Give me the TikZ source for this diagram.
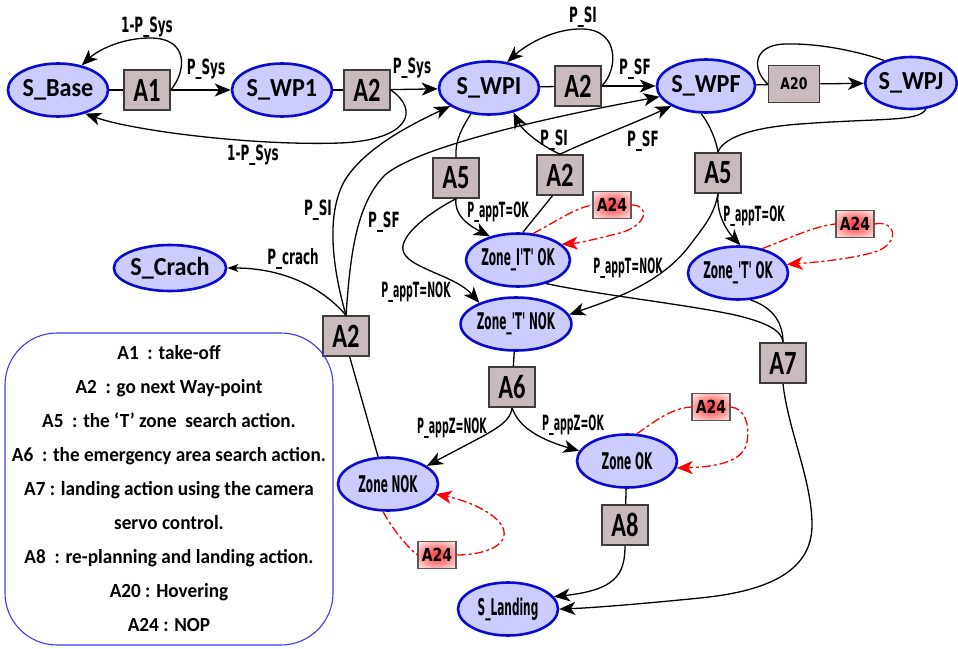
\documentclass[tikz,border=0pt]{standalone}
\usepackage{fontspec}
\usetikzlibrary{shapes.geometric,arrows.meta}

% fonts
\newfontfamily\statefont[FakeStretch=0.93]{Carlito}
\newfontfamily\actfont[FakeStretch=0.72]{Carlito}
\newfontfamily\zonefont[FakeStretch=0.46]{DejaVu Sans}
\newfontfamily\lblfont[FakeStretch=0.57]{DejaVu Sans}
\newfontfamily\applblfont[FakeStretch=0.45]{DejaVu Sans}
\newfontfamily\nopfont[FakeStretch=0.78]{DejaVu Sans}
\newfontfamily\legendfont[FakeStretch=0.96]{Carlito}

% colours
\definecolor{stfill}{RGB}{204,204,255}
\definecolor{stdraw}{RGB}{10,10,210}
\definecolor{actfill}{RGB}{201,187,187}
\definecolor{actdraw}{RGB}{60,60,60}
\definecolor{legblue}{RGB}{60,60,245}

\tikzset{
  stnode/.style={ellipse, draw=stdraw, line width=2.6pt, fill=stfill, inner sep=0pt,
    minimum width=100pt, minimum height=53pt},
  stlabel/.style={font=\statefont\bfseries\fontsize{26}{28}\selectfont},
  zonelabel/.style={font=\zonefont\bfseries\fontsize{23}{25}\selectfont},
  actbox/.style={rectangle, draw=actdraw, line width=1.5pt, fill=actfill, inner sep=0pt,
    minimum width=46pt, minimum height=40pt, font=\actfont\bfseries\fontsize{34}{36}\selectfont},
  hoverbox/.style={actbox, minimum width=51pt, minimum height=37pt,
    font=\nopfont\bfseries\fontsize{16}{18}\selectfont},
  nopbox/.style={rectangle, draw=actdraw!85, line width=1.2pt, fill=white, inner sep=0pt,
    minimum width=38pt, minimum height=27pt, font=\nopfont\bfseries\fontsize{18}{20}\selectfont,
    path picture={\shade[inner color=red!80, outer color=white]
      (path picture bounding box.center) ellipse (30pt and 20pt);}},
  lbl/.style={inner sep=0pt, font=\lblfont\bfseries\fontsize{21}{23}\selectfont},
  applbl/.style={inner sep=0pt, font=\applblfont\bfseries\fontsize{21}{23}\selectfont},
  link/.style={line width=1.3pt, black},
  arr/.style={link, -{Stealth[length=16pt,width=13pt,inset=4.5pt]}},
  smallarr/.style={link, -{Stealth[length=11pt,width=8pt,inset=3pt]}},
  redlink/.style={red, line width=1.3pt, dash pattern=on 9pt off 3pt on 3pt off 3pt},
  redarr/.style={redlink, -{Stealth[length=16pt,width=13pt,inset=4.5pt]}},
}

\begin{document}
\begin{tikzpicture}[x=1pt,y=-1pt]
\fill[white] (0,0) rectangle (958,648);
\useasboundingbox (0,0) rectangle (958,648);

% ---- states ----
\node[stnode, stlabel] (sbase) at (58,90) {S\_Base};
\node[stnode, stlabel] (swp1) at (282,90) {S\_WP1};
\node[stnode, stlabel] (swpi) at (489,88) {S\_WPI};
\node[stnode, stlabel, minimum width=98pt] (swpf) at (706,86) {S\_WPF};
\node[stnode, stlabel, minimum width=88pt, minimum height=52pt] (swpj) at (911,83) {S\_WPJ};
\node[stnode, stlabel, minimum height=46pt] (scrach) at (170,268) {S\_Crach};
\node[stnode, zonelabel] (zitok) at (518,260) {Zone\_I'T' OK};
\node[stnode, zonelabel] (ztnok) at (516,324) {Zone\_'T' NOK};
\node[stnode, zonelabel] (ztok) at (738,273) {Zone\_'T' OK};
\node[stnode, zonelabel] (znok) at (388,484) {Zone NOK};
\node[stnode, zonelabel] (zok) at (627,461) {Zone OK};
\node[stnode, zonelabel] (sland) at (508,609) {S\_Landing};

% ---- actions ----
\node[actbox] (a1) at (147,90) {A1};
\node[actbox] (a2a) at (367,90) {A2};
\node[actbox] (a2b) at (578,86) {A2};
\node[hoverbox] (a20) at (794,84) {A20};
\node[actbox] (a5a) at (456,178) {A5};
\node[actbox] (a5b) at (718,173) {A5};
\node[actbox] (a2c) at (560,175) {A2};
\node[actbox] (a2d) at (346,336) {A2};
\node[actbox] (a7) at (783,363) {A7};
\node[actbox] (a6) at (512,387) {A6};
\node[actbox] (a8) at (625,525) {A8};
\node[nopbox] (a24a) at (612,205) {A24};
\node[nopbox] (a24b) at (855,224) {A24};
\node[nopbox] (a24c) at (437,555) {A24};
\node[nopbox] (a24d) at (711,407) {A24};

% ---- legend ----
\node[draw=legblue, line width=1.1pt, rounded corners=52pt, minimum width=328pt,
  minimum height=312pt, align=center, inner sep=0pt,
  font=\legendfont\bfseries\fontsize{20}{34}\selectfont] (legend) at (169,489)
  {A1\ \ : take-off\\
   A2\ \ : go next Way-point\\
   A5\ \ : the ‘T’ zone\ \ search action.\\
   A6\ \ : the emergency area search action.\\
   A7 : landing action using the camera\\
   servo control.\\
   A8\ \ : re-planning and landing action.\\
   A20 : Hovering\\
   A24 : NOP};

% ---- take-off and way-points ----
\draw[link] (sbase) -- (a1);
\draw[arr] (a1) -- (swp1);
\draw[arr] (a1.east) .. controls (186,72) and (190,38) .. (150,38)
  .. controls (122,38) and (98,50) .. (sbase.46);
\draw[link] (swp1) -- (a2a);
\draw[arr] (a2a) -- (swpi);
\draw[arr] (a2a.east) .. controls (420,110) and (410,140) .. (340,143)
  .. controls (250,146) and (130,130) .. (sbase.-41);
\draw[link] (swpi) -- (a2b);
\draw[arr] (a2b) -- (swpf);
\draw[arr] (a2b.east) .. controls (618,70) and (620,30) .. (583,29)
  .. controls (555,28) and (527,44) .. (swpi.55);
\draw[link] (swpf) -- (a20);
\draw[arr] (a20) -- (swpj);
\draw[link] (a20.west) .. controls (752,70) and (752,45) .. (785,44)
  .. controls (820,43) and (860,52) .. (swpj.140);

% ---- 'T' zone search ----
\draw[link] (swpi.-125) .. controls (462,128) and (455,140) .. (a5a.north);
\draw[link] (swpf.-100) .. controls (710,125) and (716,140) .. (a5b.north);
\draw[link] (a5b.north) .. controls (722,140) and (745,128) .. (800,124)
  .. controls (880,118) and (920,122) .. (swpj.-60);
\draw[arr] (a5a.south) .. controls (454,215) and (468,225) .. (zitok.140);
\draw[arr] (a5a.south) .. controls (430,212) and (400,235) .. (403,250)
  .. controls (406,268) and (455,275) .. (ztnok.150);
\draw[arr] (a5b.south) .. controls (716,215) and (728,232) .. (ztok.85);
\draw[arr] (a5b.south) .. controls (714,215) and (705,225) .. (690,245)
  .. controls (660,285) and (610,300) .. (ztnok.10);

% ---- way-point change from the intermediate zone ----
\draw[link] (a2c.-110) -- (zitok.80);
\draw[arr] (a2c.north) .. controls (540,145) and (522,130) .. (swpi.-45);
\draw[arr] (a2c.north) .. controls (590,140) and (630,125) .. (swpf.-150);

% ---- NOP loops ----
\draw[redlink] (zitok.60) .. controls (555,222) and (575,208) .. (a24a.west);
\draw[redarr] (a24a.east) .. controls (650,205) and (648,225) .. (620,233)
  .. controls (600,238) and (580,243) .. (zitok.20);
\draw[redlink] (ztok.45) .. controls (790,238) and (815,226) .. (a24b.west);
\draw[redarr] (a24b.east) .. controls (895,220) and (900,240) .. (880,250)
  .. controls (860,258) and (820,262) .. (ztok.10);
\draw[redlink] (znok.-100) .. controls (390,525) and (405,545) .. (a24c.west);
\draw[redarr] (a24c.east) .. controls (485,555) and (510,545) .. (503,528)
  .. controls (496,512) and (465,500) .. (znok.-12);
\draw[redlink] (zok.70) .. controls (650,425) and (670,408) .. (a24d.west);
\draw[redarr] (a24d.east) .. controls (745,408) and (750,425) .. (747,442)
  .. controls (744,462) and (715,467) .. (zok.-8);

% ---- landing ----
\draw[link] (zitok.-40) .. controls (600,295) and (690,305) .. (735,315)
  .. controls (765,322) and (782,330) .. (a7.north);
\draw[link] (ztok.-65) .. controls (775,308) and (783,325) .. (a7.north);
\draw[arr] (a7.south) .. controls (788,430) and (812,480) .. (812,525)
  .. controls (812,575) and (760,592) .. (700,598)
  .. controls (640,604) and (590,608) .. (sland.east);
\draw[link] (ztnok) -- (a6);
\draw[arr] (a6.south) .. controls (510,425) and (490,432) .. (znok.25);
\draw[arr] (a6.south) .. controls (518,425) and (535,438) .. (zok.168);
\draw[link] (zok) -- (a8);
\draw[arr] (a8.south) .. controls (625,575) and (615,590) .. (sland.15);

% ---- emergency area ----
\draw[link] (a2d.-80) -- (znok.110);
\draw[smallarr] (a2d.north) .. controls (320,285) and (280,268) .. (scrach.east);
\draw[arr] (a2d.north) .. controls (333,270) and (325,215) .. (345,180)
  .. controls (365,148) and (410,125) .. (swpi.-155);
\draw[arr] (a2d.north) .. controls (350,260) and (355,205) .. (385,175)
  .. controls (420,145) and (560,115) .. (swpf.-167);

% ---- probability labels ----
\node[lbl] (l1) at (147,27) {1-P\_Sys};
\node[lbl] (l2) at (206,69) {P\_Sys};
\node[lbl] (l3) at (412,68) {P\_Sys};
\node[lbl] (l4) at (253,155) {1-P\_Sys};
\node[lbl] (l5) at (583,17) {P\_SI};
\node[lbl] (l6) at (635,69) {P\_SF};
\node[lbl] (l7) at (554,140) {P\_SI};
\node[lbl] (l8) at (643,141) {P\_SF};
\node[lbl] (l9) at (318,210) {P\_SI};
\node[lbl] (l10) at (384,222) {P\_SF};
\node[lbl] (l11) at (293,259) {P\_crach};
\node[applbl] (l12) at (498,212) {P\_appT=OK};
\node[applbl] (l13) at (416,292) {P\_appT=NOK};
\node[applbl] (l14) at (628,268) {P\_appT=NOK};
\node[applbl] (l15) at (754,216) {P\_appT=OK};
\node[applbl] (l16) at (452,428) {P\_appZ=NOK};
\node[applbl] (l17) at (573,425) {P\_appZ=OK};
\end{tikzpicture}
\end{document}
